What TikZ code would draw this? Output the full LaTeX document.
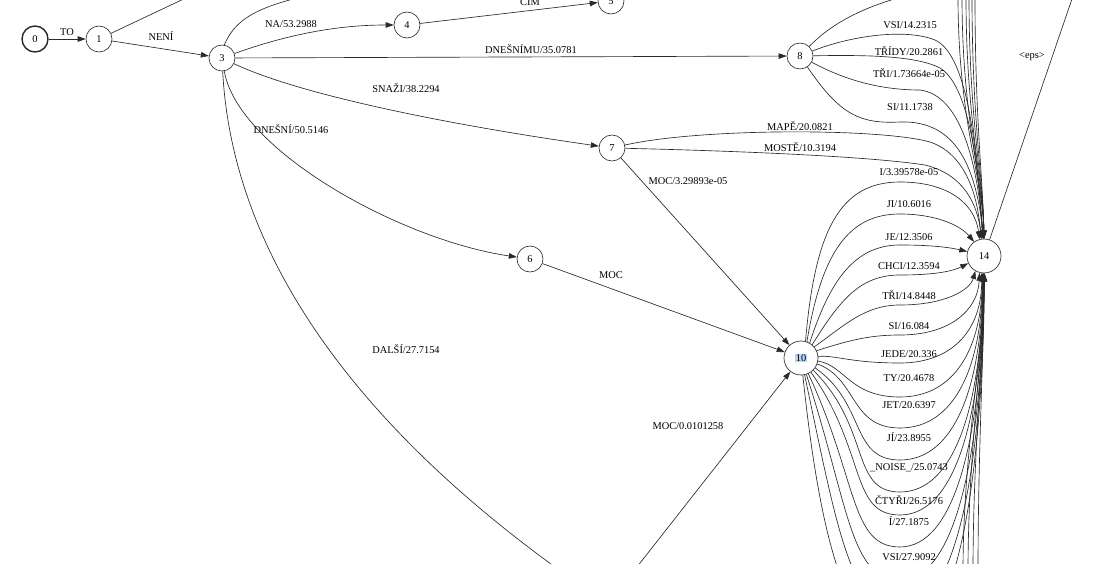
\documentclass[tikz,border=0pt]{standalone}
\usepackage{fontspec}
\setmainfont{Liberation Serif}
\usetikzlibrary{arrows.meta}
\definecolor{hl}{HTML}{B4D5FE}
\definecolor{ln}{HTML}{2A2A2A}
\begin{document}
\begin{tikzpicture}[x=1pt,y=-1pt,
  st/.style={circle,draw=ln,line width=0.65pt,minimum size=26pt,inner sep=0pt,font=\fontsize{10.4}{12}\selectfont},
  big/.style={st,minimum size=34pt},
  e/.style={draw=ln,line width=0.65pt,-{Triangle[length=8pt,width=5.5pt]}},
  ne/.style={draw=ln,line width=0.65pt},
  lab/.style={font=\fontsize{10.4}{12}\selectfont,inner sep=0pt}]
\useasboundingbox (0,0) rectangle (1104,564);
\clip (0,0) rectangle (1104,564);
\fill[white] (0,0) rectangle (1104,564);

% nodes
\node[st,line width=1.4pt] (n0) at (35,39) {0};
\node[st] (n1) at (99,39) {1};
\node[st] (n3) at (222,58) {3};
\node[st] (n4) at (407,25) {4};
\node[st] (n5) at (611,1) {5};
\node[st] (n8) at (800,56) {8};
\node[st] (n7) at (612,148) {7};
\node[st] (n6) at (530,259) {6};
\node[big] (n10) at (801,358) {{\setlength{\fboxsep}{0.6pt}\colorbox{hl}{10}}};
\node[big] (n14) at (984,256) {14};

% off-picture ends
\coordinate (u1) at (190,-4);
\coordinate (u3) at (305,-4);
\coordinate (u8) at (905,-4);
\coordinate (d3) at (562,572);
\coordinate (d10) at (633,572);
\coordinate (ueps) at (1073,-4);

% edges
\path[e] (n0) -- (n1);
\path[e] (n1) -- (n3);
\path[ne] (n1) -- (u1);
\path[ne] (n3.80) .. controls (235,20) and (255,8) .. (u3);
\path[e] (n3) .. controls (300,30) and (350,25) .. (n4);
\path[e] (n4) -- (n5);
\path[e] (n3) -- (n8);
\path[e] (n3) .. controls (300,95) and (450,125) .. (n7);
\path[e] (n3) .. controls (238,150) and (400,240) .. (n6);
\path[ne] (n3) .. controls (232,250) and (350,420) .. (d3);
\path[e] (n6) -- (n10);
\path[e] (n7) -- (n10);
\path[e] (d10) -- (n10);

% 7 -> 14
\path[e] (n7) .. controls (700,128) and (880,128) .. (930,142) .. controls (968,155) and (978,200) .. (n14.100);
\path[e] (n7) .. controls (700,150) and (860,155) .. (925,165) .. controls (965,175) and (977,205) .. (n14.97);

% 8 -> ...
\path[ne] (n8) .. controls (830,25) and (860,8) .. (u8);
\path[e] (n8) .. controls (850,36) and (905,28) .. (935,40) .. controls (968,55) and (977,150) .. (n14.95);
\path[e] (n8) .. controls (860,55) and (915,55) .. (940,68) .. controls (968,85) and (978,160) .. (n14.93);
\path[e] (n8) .. controls (845,80) and (880,90) .. (920,90) .. controls (960,95) and (977,160) .. (n14.92);
\path[e] (n8) .. controls (840,115) and (860,124) .. (900,122) .. controls (958,120) and (976,170) .. (n14.91);

% bundle from above
\foreach \x in {958,962,966,969,972,975}{
  \path[e] (\x,-4) .. controls (\x,120) and (983,180) .. (n14.90);
}

% 10 -> 14, upper fan
\path[e] (n10.75) .. controls (815,230) and (840,182) .. (900,182) .. controls (950,182) and (975,205) .. (n14.105);
\path[e] (n10.70) .. controls (822,250) and (850,214) .. (900,214) .. controls (935,214) and (960,225) .. (n14.125);
\path[e] (n10.60) .. controls (830,280) and (855,245) .. (900,245) .. controls (935,245) and (952,248) .. (n14.165);
\path[e] (n10.50) .. controls (840,300) and (860,275) .. (900,275) .. controls (940,275) and (955,270) .. (n14.205);
\path[e] (n10.40) .. controls (845,325) and (865,305) .. (900,305) .. controls (945,305) and (970,290) .. (n14.240);
\path[e] (n10.25) .. controls (850,340) and (870,335) .. (900,335) .. controls (950,335) and (978,310) .. (n14.255);

% 10 -> 14, lower fan
\foreach \a/\t/\k/\b in {5/363/35/262, -10/397/45/264, -20/428/60/265, -35/460/80/266, -45/492/100/267, -55/515/115/268, -65/547/135/269, -72/580/155/270, -78/610/175/271, -84/640/195/272}{
  \path[e] (n10.\a) .. controls ({801+\k*cos(\a)},{358-\k*sin(\a)}) and (850,\t) .. (900,\t)
     .. controls (955,\t) and (982,{\t-0.4*(\t-273)}) .. (n14.\b);
}

% bundle from below
\foreach \x in {963,968,973,978}{
  \path[e] (\x,572) .. controls (\x,450) and (984,350) .. (n14.270);
}

% 14 -> eps
\path[ne] (n14) -- (ueps);

% labels
\node[lab] at (67,32) {TO};
\node[lab] at (161,36) {NENÍ};
\node[lab] at (291,24) {NA/53.2988};
\node[lab] at (530,2) {CIM};
\node[lab] at (531,49) {DNEŠNÍMU/35.0781};
\node[lab] at (406,88) {SNAŽI/38.2294};
\node[lab] at (291,129) {DNEŠNÍ/50.5146};
\node[lab] at (406,349) {DALŠÍ/27.7154};
\node[lab] at (611,275) {MOC};
\node[lab] at (688,181) {MOC/3.29893e-05};
\node[lab] at (688,426) {MOC/0.0101258};
\node[lab] at (800,126) {MAPĚ/20.0821};
\node[lab] at (800,147) {MOSTĚ/10.3194};
\node[lab] at (910,25) {VSI/14.2315};
\node[lab] at (909,51) {TŘÍDY/20.2861};
\node[lab] at (909,73) {TŘI/1.73664e-05};
\node[lab] at (910,107) {SI/11.1738};
\node[lab] at (909,172) {I/3.39578e-05};
\node[lab] at (909,204) {JI/10.6016};
\node[lab] at (909,237) {JE/12.3506};
\node[lab] at (909,266) {CHCI/12.3594};
\node[lab] at (909,295) {TŘI/14.8448};
\node[lab] at (909,326) {SI/16.084};
\node[lab] at (909,354) {JEDE/20.336};
\node[lab] at (909,378) {TY/20.4678};
\node[lab] at (909,405) {JET/20.6397};
\node[lab] at (909,437) {JÍ/23.8955};
\node[lab] at (909,468) {\_NOISE\_/25.0743};
\node[lab] at (909,500) {ČTYŘI/26.5176};
\node[lab] at (909,521) {Í/27.1875};
\node[lab] at (909,557) {VSI/27.9092};
\node[lab] at (1032,57) {<eps>};
\end{tikzpicture}
\end{document}
